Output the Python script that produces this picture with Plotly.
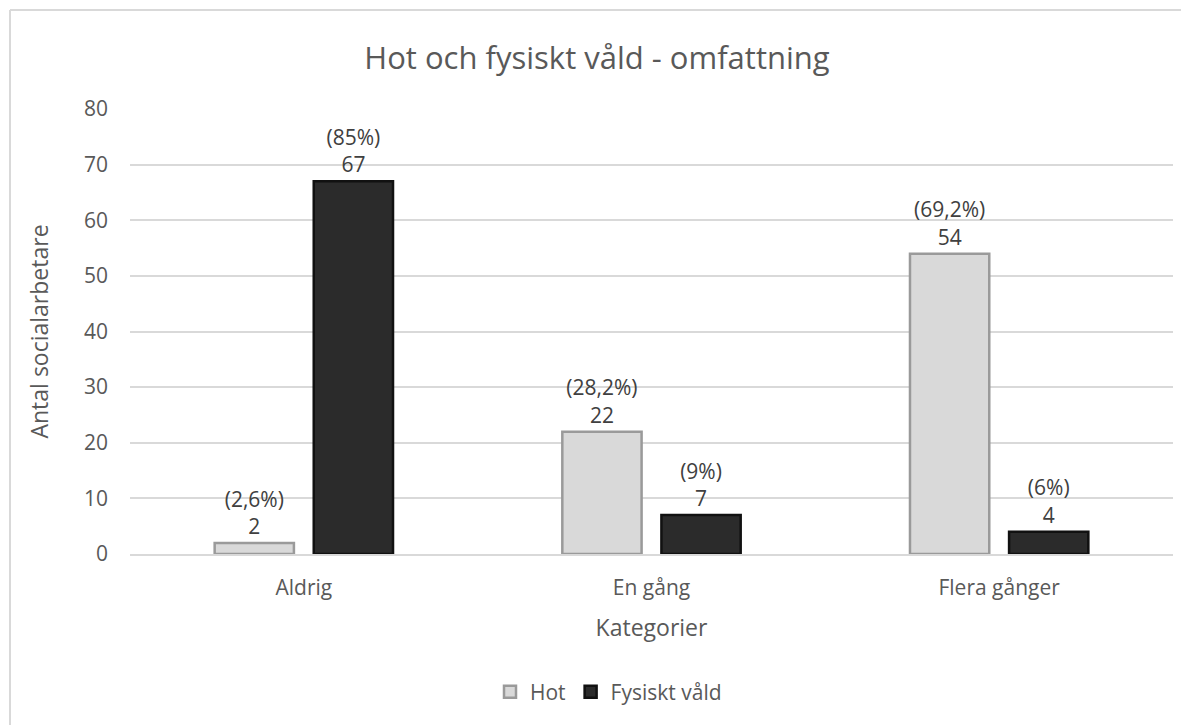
import plotly.graph_objects as go

categories = ["Aldrig", "En gång", "Flera gånger"]
hot_values = [2, 22, 54]
hot_pct = ["2,6%", "28,2%", "69,2%"]
vald_values = [67, 7, 4]
vald_pct = ["85%", "9%", "6%"]
y_ticks = [0, 10, 20, 30, 40, 50, 60, 70, 80]

# page body has an 8px margin; figure sized to fit inside the window
W, H = 1181, 717
ML, MR, MT, MB = 122, 16, 101, 171
PW, PH = W - ML - MR, H - MT - MB

FONT = "Open Sans, Liberation Sans, sans-serif"
TXT = "#595959"

fig = go.Figure()
fig.add_trace(go.Bar(
    name="Hot", x=categories, y=hot_values,
    text=[f"({p})<br>{v}" for p, v in zip(hot_pct, hot_values)],
    textposition="outside", cliponaxis=False,
    textfont=dict(family=FONT, size=21, color="#404040"),
    marker=dict(color="#d9d9d9", line=dict(color="#9a9a9a", width=2.5)),
))
fig.add_trace(go.Bar(
    name="Fysiskt våld", x=categories, y=vald_values,
    text=[f"({p})<br>{v}" for p, v in zip(vald_pct, vald_values)],
    textposition="outside", cliponaxis=False,
    textfont=dict(family=FONT, size=21, color="#404040"),
    marker=dict(color="#2b2b2b", line=dict(color="#111111", width=2.5)),
))

# outer chart frame (left and top edges visible)
fx = (2 - ML) / PW
fy = 1 + (MT - 2) / PH
fig.add_shape(type="line", xref="paper", yref="paper", x0=fx, x1=fx, y0=fy, y1=-1,
              line=dict(color="#d9d9d9", width=2))
fig.add_shape(type="line", xref="paper", yref="paper", x0=fx, x1=1.2, y0=fy, y1=fy,
              line=dict(color="#d9d9d9", width=2))

fig.update_layout(
    width=W, height=H,
    margin=dict(l=ML, r=MR, t=MT, b=MB, autoexpand=False),
    paper_bgcolor="white", plot_bgcolor="white",
    font=dict(family=FONT, color=TXT, size=21),
    title=dict(text="Hot och fysiskt våld - omfattning", x=(597 - 8 - ML) / PW,
               xanchor="center", xref="paper",
               y=1 - 50 / H, yanchor="middle", font=dict(size=31, color=TXT, family=FONT)),
    barmode="group", bargap=0.43, bargroupgap=0.2,
    showlegend=True,
    legend=dict(orientation="h", x=(482 - ML) / PW, xanchor="left",
                y=-(684 - (H - MB)) / PH, yanchor="middle",
                font=dict(size=21, color=TXT, family=FONT),
                itemwidth=30, traceorder="normal"),
    xaxis=dict(showgrid=False, showline=True, linecolor="#d9d9d9", linewidth=2,
               tickfont=dict(size=21, color=TXT), ticks="", ticklabelstandoff=14,
               title=dict(text="Kategorier", font=dict(size=23, color=TXT), standoff=20)),
    yaxis=dict(range=[0, 80], tickvals=y_ticks, showgrid=True, gridcolor="#d9d9d9", gridwidth=1.5,
               zeroline=False, showline=False, ticks="", ticklabelstandoff=21,
               tickfont=dict(size=21, color=TXT),
               title=dict(text="Antal socialarbetare", font=dict(size=23, color=TXT), standoff=28)),
)

fig.write_html("out.html")
